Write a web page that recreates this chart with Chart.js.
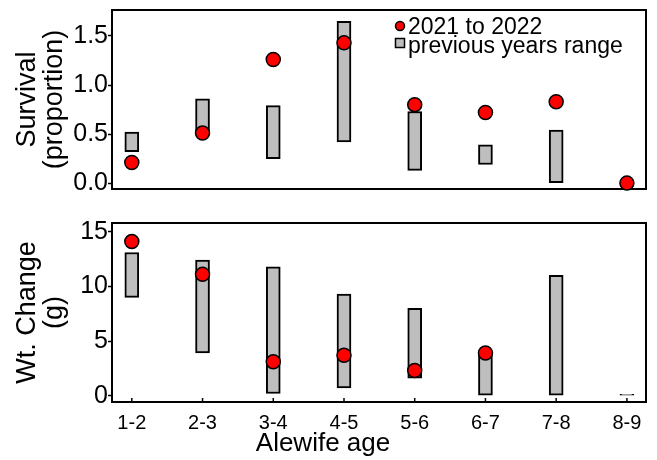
<!DOCTYPE html>
<html>
<head>
<meta charset="utf-8">
<script src="https://cdn.jsdelivr.net/npm/chart.js@4.4.1/dist/chart.umd.min.js"></script>
<style>
  html, body { margin: 0; padding: 0; background: #fff; }
  .panel { position: absolute; left: 0; width: 657px; }
  #survivalPanel { top: 0; height: 200px; }
  #weightPanel { top: 200px; height: 260px; }
</style>
</head>
<body>
<div class="panel" id="survivalPanel"><canvas id="survivalChart"></canvas></div>
<div class="panel" id="weightPanel"><canvas id="weightChart"></canvas></div>
<script>
// Alewife age transitions, plotted at 1..8 on a linear x scale
const ageLabels    = ['1-2', '2-3', '3-4', '4-5', '5-6', '6-7', '7-8', '8-9'];
const agePositions = [1, 2, 3, 4, 5, 6, 7, 8];

// Survival (proportion)
const survivalCurrent  = [0.21, 0.51, 1.26, 1.43, 0.80, 0.72, 0.83, 0.00];
const survivalRangeLow  = [0.32, 0.52, 0.25, 0.42, 0.13, 0.19, 0.00, null];
const survivalRangeHigh = [0.52, 0.86, 0.79, 1.65, 0.73, 0.39, 0.54, null];
const survivalTicks = [0, 0.5, 1.0, 1.5];

// Weight change (g)
const weightCurrent   = [14.1, 11.1, 3.1, 3.7, 2.3, 3.9, null, null];
const weightRangeLow  = [9.0, 3.9, 0.2, 0.7, 1.6, 0.0, 0.0, 0.0];
const weightRangeHigh = [13.1, 12.4, 11.8, 9.3, 8.0, 3.7, 11.0, 0.12];
const weightTicks = [0, 5, 10, 15];

const CURRENT_LABEL = '2021 to 2022';
const RANGE_LABEL   = 'previous years range';
const RED  = '#ff0000';
const GREY = '#bebebe';

Chart.defaults.font.family = "'Liberation Sans', Arial, sans-serif";
Chart.defaults.color = '#000';

function pointsFrom(values) {
  return agePositions.map((x, i) => ({ x, y: values[i] })).filter((p) => p.y != null);
}

function rangesFrom(lo, hi) {
  return agePositions.map((x, i) => (lo[i] == null ? null : { x, y: [lo[i], hi[i]] })).filter(Boolean);
}

// scales should not push the plot area around to fit their end labels
function noLabelPadding(s) {
  s.paddingTop = 0;
  s.paddingBottom = 0;
  s.paddingLeft = 0;
  s.paddingRight = 0;
}

// box round the plot area, plus short inward ticks on the x axis
const panelFrame = {
  id: 'panelFrame',
  beforeDatasetsDraw(chart, args, opts) {
    const { ctx, chartArea: a } = chart;
    ctx.save();
    ctx.strokeStyle = '#000';
    ctx.lineWidth = 2;
    ctx.strokeRect(a.left, a.top, a.right - a.left, a.bottom - a.top);
    if (opts.innerTicks) {
      const xs = chart.scales.x;
      ctx.lineWidth = 1.5;
      xs.ticks.forEach((t) => {
        const px = xs.getPixelForValue(t.value);
        ctx.beginPath();
        ctx.moveTo(px, a.bottom);
        ctx.lineTo(px, a.bottom - 4);
        ctx.stroke();
      });
    }
    ctx.restore();
  },
};

// legend drawn inside the plot area (top right)
const insideLegend = {
  id: 'insideLegend',
  afterDatasetsDraw(chart, args, opts) {
    if (!opts.show) return;
    const ctx = chart.ctx;
    ctx.save();
    ctx.font = opts.font;
    ctx.textBaseline = 'middle';
    ctx.textAlign = 'left';
    ctx.lineWidth = 1.5;
    ctx.strokeStyle = '#000';
    chart.data.datasets.forEach((ds, i) => {
      const ty = opts.y + i * opts.gap;
      const my = ty - opts.markerLift[i];
      ctx.fillStyle = ds.backgroundColor;
      if (ds.type === 'scatter') {
        ctx.beginPath();
        ctx.arc(opts.x, my, 4.5, 0, Math.PI * 2);
        ctx.fill();
        ctx.stroke();
      } else {
        ctx.fillRect(opts.x - 4.5, my - 4.5, 9, 9);
        ctx.strokeRect(opts.x - 4.5, my - 4.5, 9, 9);
      }
      ctx.fillStyle = '#000';
      ctx.fillText(ds.label, opts.x + 8, ty);
    });
    ctx.restore();
  },
};

function buildPanel(canvasId, cfg) {
  return new Chart(document.getElementById(canvasId), {
    type: 'bar',
    data: {
      datasets: [
        {
          type: 'scatter',
          label: CURRENT_LABEL,
          data: pointsFrom(cfg.current),
          backgroundColor: RED,
          borderColor: '#000',
          borderWidth: 1.5,
          pointRadius: 7,
          order: 0,
          clip: false,
        },
        {
          type: 'bar',
          label: RANGE_LABEL,
          data: rangesFrom(cfg.low, cfg.high),
          backgroundColor: GREY,
          borderColor: '#000',
          borderWidth: 2,
          borderSkipped: false,
          barThickness: 14,
          order: 1,
        },
      ],
    },
    options: {
      responsive: true,
      maintainAspectRatio: false,
      animation: false,
      events: [],
      layout: { autoPadding: false, padding: cfg.padding },
      scales: {
        x: {
          type: 'linear',
          offset: false,
          min: 0.72,
          max: 8.27,
          display: cfg.showX,
          afterBuildTicks: (s) => { s.ticks = agePositions.map((v) => ({ value: v })); },
          afterFit: (s) => {
            noLabelPadding(s);
            if (cfg.showX) s.height = 29;
          },
          grid: { display: false, drawTicks: false },
          border: { display: false },
          ticks: {
            autoSkip: false,
            maxRotation: 0,
            padding: 9,
            font: { size: 20, lineHeight: 1.2 },
            callback: (v) => ageLabels[agePositions.indexOf(v)],
          },
        },
        y: {
          type: 'linear',
          min: cfg.yMin,
          max: cfg.yMax,
          afterBuildTicks: (s) => { s.ticks = cfg.ticks.map((v) => ({ value: v })); },
          afterFit: (s) => {
            noLabelPadding(s);
            s.width = 112;
          },
          grid: { drawOnChartArea: false, drawTicks: true, tickLength: 4, tickColor: '#000', tickWidth: 1.5 },
          border: { display: false },
          ticks: {
            padding: 0,
            font: { size: 25 },
            callback: cfg.tickFormat,
          },
          title: {
            display: true,
            text: cfg.yTitle,
            font: { size: 27, lineHeight: 1 },
            padding: { top: 14, bottom: 0 },
          },
        },
      },
      plugins: {
        legend: { display: false },
        tooltip: { enabled: false },
        title: {
          display: cfg.showX,
          text: 'Alewife age',
          position: 'bottom',
          font: { size: 26, weight: 'normal', lineHeight: 1 },
          padding: { top: 0, bottom: 3 },
        },
        panelFrame: { innerTicks: cfg.showX },
        insideLegend: {
          show: cfg.legend,
          x: 400,
          y: 28,
          gap: 19,
          markerLift: [2, 4],
          font: "23px 'Liberation Sans', Arial, sans-serif",
        },
      },
    },
    plugins: [panelFrame, insideLegend],
  });
}

buildPanel('survivalChart', {
  current: survivalCurrent,
  low: survivalRangeLow,
  high: survivalRangeHigh,
  ticks: survivalTicks,
  yMin: -0.06,
  yMax: 1.765,
  yTitle: ['Survival', '(proportion)'],
  tickFormat: (v) => v.toFixed(1),
  padding: { top: 10, right: 11, bottom: 11, left: 0 },
  showX: false,
  legend: true,
});

buildPanel('weightChart', {
  current: weightCurrent,
  low: weightRangeLow,
  high: weightRangeHigh,
  ticks: weightTicks,
  yMin: -0.58,
  yMax: 15.8,
  yTitle: ['Wt. Change', '(g)'],
  tickFormat: (v) => String(v),
  padding: { top: 23, right: 11, bottom: 0, left: 0 },
  showX: true,
  legend: false,
});
</script>
</body>
</html>
